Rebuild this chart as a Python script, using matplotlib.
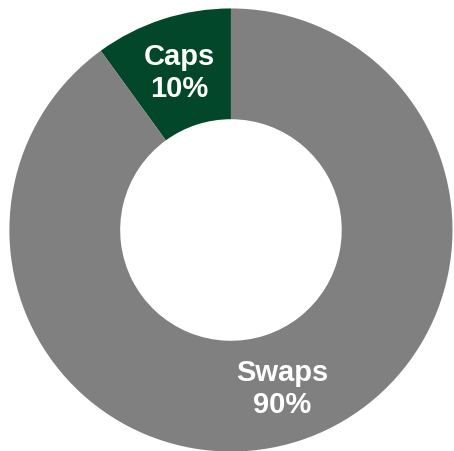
import matplotlib
matplotlib.use("Agg")
import matplotlib.pyplot as plt

labels = ["Caps", "Swaps"]
shares = [10, 90]
colors = ["#03472b", "#808080"]

plt.rcParams['font.family'] = ['Liberation Sans', 'DejaVu Sans']

fig = plt.figure(figsize=(4.54, 4.52), dpi=100)
ax = fig.add_axes([0.0207, -0.0013, 0.976, 0.9805])

wedges, texts, autotexts = ax.pie(
    shares,
    colors=colors,
    startangle=90,
    counterclock=True,
    radius=1.0,
    pctdistance=0.75,
    autopct=lambda p: "",
    wedgeprops=dict(width=0.5, linewidth=0),
)

# put the category name above the share inside each ring segment
for t, name, val in zip(autotexts, labels, shares):
    t.set_text(f"{name}\n{val}%")
    t.set_color("white")
    t.set_fontsize(21)
    t.set_fontweight("bold")
    t.set_linespacing(1.2)
    t.set_ha("center")
    t.set_va("center")

ax.set_xlim(-1, 1)
ax.set_ylim(-1, 1)
ax.set_aspect("equal")
ax.axis("off")

fig.savefig("out.png", dpi=100)
